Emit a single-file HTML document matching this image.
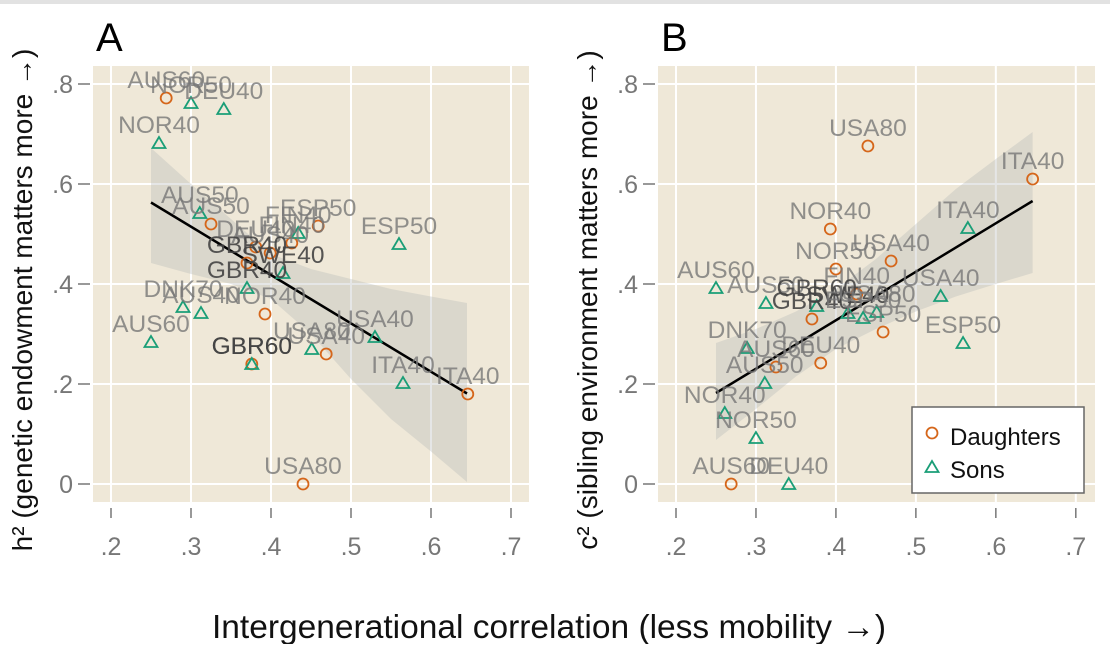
<!DOCTYPE html>
<html><head><meta charset="utf-8"><style>
body{margin:0;background:#fff;width:1110px;height:644px;overflow:hidden;font-family:"Liberation Sans",sans-serif}
</style></head><body>
<svg width="1110" height="644" viewBox="0 0 1110 644" xmlns="http://www.w3.org/2000/svg">
<rect x="0" y="0" width="1110" height="4" fill="#e2e2e2"/>
<g id="root"></g>
<text x="549" y="638" text-anchor="middle" font-size="33.5" fill="#111">Intergenerational correlation (less mobility →)</text>
</svg>
<script>
// Panel A data
const aX=[.269,.325,.381,.426,.459,.399,.37,.3925,.469,.376,.646,.44, .30,.341,.26,.311,.434,.415,.37,.29,.3125,.25,.376,.451,.53,.565,.56];
const aY=[.772,.52,.474,.482,.516,.462,.442,.34,.26,.24,.18,0, .762,.75,.682,.542,.502,.422,.392,.354,.342,.284,.24,.27,.294,.202,.48];
const aKind=['d','d','d','d','d','d','d','d','d','d','d','d','s','s','s','s','s','s','s','s','s','s','s','s','s','s','s'];
const aLabel=['AUS60','AUS50','DEU40','FIN40','ESP50','AUS40','GBR40','NOR40','USA40','GBR60','ITA40','USA80','NOR50','DEU40','NOR40','AUS50','FIN40','SWE40','GBR40','DNK70','AUS40','AUS60','GBR60','USA80','USA40','ITA40','ESP50'];
const aDark=['GBR40','SWE40','GBR60'];
const aFit=[[.25,.563],[.645,.181]];
const aBandX=[.25,.3,.35,.4,.45,.5,.55,.6,.645];
const aBandHi=[.672,.60,.53,.46,.43,.41,.39,.375,.362];
const aBandLo=[.442,.42,.40,.37,.30,.21,.13,.065,.004];
// Panel B data
const bX=[.44,.646,.393,.469,.40,.426,.37,.459,.381,.325,.269, .565,.25,.531,.3125,.376,.415,.434,.451,.559,.289,.311,.261,.30,.341];
const bY=[.676,.61,.51,.446,.43,.38,.33,.304,.242,.234,0, .512,.392,.376,.362,.356,.342,.332,.344,.282,.272,.202,.142,.092,0];
const bKind=['d','d','d','d','d','d','d','d','d','d','d','s','s','s','s','s','s','s','s','s','s','s','s','s','s'];
const bLabel=['USA80','ITA40','NOR40','USA40','NOR50','FIN40','GBR40','ESP50','DEU40','AUS60','AUS60','ITA40','AUS60','USA40','AUS50','GBR60','SWE40','ESP50','USA80','ESP50','DNK70','AUS50','NOR40','NOR50','DEU40'];
const bFit=[[.25,.182],[.646,.566]];
const bBandX=[.25,.3,.35,.4,.45,.5,.55,.6,.646];
const bBandHi=[.282,.31,.345,.39,.45,.52,.59,.65,.704];
const bBandLo=[.088,.15,.215,.27,.31,.345,.375,.40,.422];
const xTicks=[.2,.3,.4,.5,.6,.7];
const xTickLabels=['.2','.3','.4','.5','.6','.7'];
const yTicks=[0,.2,.4,.6,.8];
const yTickLabels=['0','.2','.4','.6','.8'];

const NS='http://www.w3.org/2000/svg';
const root=document.getElementById('root');
function mk(tag,attrs,parent){const e=document.createElementNS(NS,tag);for(const k in attrs)e.setAttribute(k,attrs[k]);(parent||root).appendChild(e);return e;}

function panel(p){
  const g=mk('g',{});
  
  
  const sx=v=>p.x0+(v-.2)*p.kx, sy=v=>484-v*500;
  const bg=mk('rect',{x:p.bgL,y:66,width:p.bgR-p.bgL,height:436,fill:'#efe8d8'},g);
  
  
  xTicks.forEach((t,i)=>{
    const l=mk('line',{x1:sx(t),x2:sx(t),y1:66,y2:502,stroke:'#fff','stroke-width':2},g);
    
    
    const tk=mk('line',{x1:sx(t),x2:sx(t),y1:508,y2:518,stroke:'#777','stroke-width':1.5},g);
    
    
    const tx=mk('text',{x:sx(t),y:555,'text-anchor':'middle','font-size':25,fill:'#777'},g);
    tx.textContent=xTickLabels[i];
    
    
  });
  yTicks.forEach((t,i)=>{
    const l=mk('line',{x1:p.bgL,x2:p.bgR,y1:sy(t),y2:sy(t),stroke:'#fff','stroke-width':2},g);
    
    
    const tk=mk('line',{x1:p.bgL-15,x2:p.bgL-3,y1:sy(t),y2:sy(t),stroke:'#777','stroke-width':1.5},g);
    
    
    const tx=mk('text',{x:p.bgL-20,y:sy(t)+9,'text-anchor':'end','font-size':25,fill:'#777'},g);
    tx.textContent=yTickLabels[i];
    
    
  });
  let pts=p.bx.map((x,i)=>sx(x)+','+sy(p.hi[i]));
  for(let i=p.bx.length-1;i>=0;i--)pts.push(sx(p.bx[i])+','+sy(p.lo[i]));
  const band=mk('polygon',{points:pts.join(' '),fill:'#b4b8b8','fill-opacity':0.35},g);
  
  
  const fl=mk('line',{x1:sx(p.fit[0][0]),y1:sy(p.fit[0][1]),x2:sx(p.fit[1][0]),y2:sy(p.fit[1][1]),stroke:'#000','stroke-width':2.5},g);
  
  
  p.xs.forEach((x,i)=>{
    const cx=sx(x),cy=sy(p.ys[i]);
    let m;
    if(p.kind[i]==='d'){m=mk('circle',{cx:cx,cy:cy,r:5.5,fill:'none',stroke:'#d5661a','stroke-width':1.8},g);
      }
    else{m=mk('polygon',{points:`${cx},${cy-6} ${cx-6.5},${cy+5} ${cx+6.5},${cy+5}`,fill:'none',stroke:'#1a9e77','stroke-width':1.8},g);
      }
    
  });
  p.xs.forEach((x,i)=>{
    const dark=aDark.includes(p.lab[i]);
    const t=mk('text',{x:sx(x),y:sy(p.ys[i])-10,'text-anchor':'middle','font-size':24.5,fill:dark?'#444':'#777','fill-opacity':dark?0.9:0.8},g);
    t.textContent=p.lab[i];
    
    
  });
  const L=mk('text',{x:p.bgL+3,y:51,'font-size':40,fill:'#000'},g);
  L.textContent=p.letter;
  
  
  const yt=mk('text',{x:0,y:0,'text-anchor':'middle','font-size':28,fill:'#111',transform:`translate(${p.ytx},300) rotate(-90)`},g);
  yt.textContent=p.ytitle;
  
  
}
panel({name:'panel-a',x0:111,kx:800,bgL:93,bgR:529,xs:aX,ys:aY,kind:aKind,lab:aLabel,bx:aBandX,hi:aBandHi,lo:aBandLo,fit:aFit,letter:'A',ytx:32,ytitle:'h² (genetic endowment matters more →)'});
panel({name:'panel-b',x0:676,kx:799.6,bgL:658,bgR:1095,xs:bX,ys:bY,kind:bKind,lab:bLabel,bx:bBandX,hi:bBandHi,lo:bBandLo,fit:bFit,letter:'B',ytx:597,ytitle:'c² (sibling environment matters more →)'});

const lg=mk('g',{});


mk('rect',{x:912,y:407,width:172,height:86,fill:'#fff',stroke:'#666','stroke-width':1.5},lg);
mk('circle',{cx:932,cy:433,r:5.5,fill:'none',stroke:'#d5661a','stroke-width':1.8},lg);
const l1=mk('text',{x:950,y:445,'font-size':24,fill:'#111'},lg);l1.textContent='Daughters';


mk('polygon',{points:'932,461 925.5,472 938.5,472',fill:'none',stroke:'#1a9e77','stroke-width':1.8},lg);
const l2=mk('text',{x:950,y:478,'font-size':24,fill:'#111'},lg);l2.textContent='Sons';


</script>
</body></html>
